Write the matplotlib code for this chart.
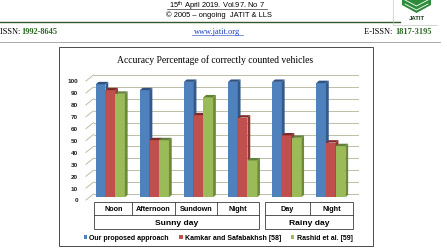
import matplotlib
matplotlib.use("Agg")
import matplotlib.pyplot as plt
from matplotlib.patches import Rectangle, Polygon
from matplotlib.lines import Line2D
import numpy as np

# data
categories = ["Noon", "Afternoon", "Sundown", "Night", "Day", "Night"]
groups = ["Sunny day", "Rainy day"]
series = ["Our proposed approach", "Kamkar and Safabakhsh [58]", "Rashid et al. [59]"]
ours = [95, 90, 97, 97, 97, 96]
kamkar = [90, 48, 69, 67, 52, 46]
rashid = [87, 48, 84, 31, 50, 43]
yticks = [0, 10, 20, 30, 40, 50, 60, 70, 80, 90, 100]

front_colors = ["#4f81bd", "#c0504d", "#9bbb59"]
side_colors = ["#35598a", "#8e3532", "#6d8a38"]
top_colors = ["#2f5283", "#7f2b29", "#62803a"]

W, H = 447, 253
# pixel mapping of the plot (x: category centre, y: value)
X0, XS = 110.3, 44.1
Y0, YS = 198.3, 1.19


def fx(px):
    return px / W


def fy(py):
    return 1 - py / H


def dx(px):
    return (px - X0) / XS


def main():
    fig = plt.figure(figsize=(W / 100, H / 100), dpi=100)
    fig.patch.set_facecolor("white")

    # ---- page header ----
    fig.text(fx(217), fy(6), r"15$^{\mathregular{th}}$ April 2019. Vol.97. No 7",
             ha="center", va="center", fontsize=5.4, family="Liberation Sans")
    fig.add_artist(Line2D([fx(167), fx(267)], [fy(10), fy(10)], color="black", lw=0.4))
    fig.text(fx(218.5), fy(15), "\u00a9 2005 \u2013 ongoing  JATIT & LLS",
             ha="center", va="center", fontsize=5.4, family="Liberation Sans")
    fig.add_artist(Line2D([0, fx(400)], [fy(22.7), fy(22.7)], color="#2f5a2f", lw=1.0))

    green = "#2a6a22"
    fig.text(fx(0), fy(32), "ISSN: ", ha="left", va="center", fontsize=6,
             family="Liberation Serif")
    fig.text(fx(21), fy(32), "1992-8645", ha="left", va="center", fontsize=6,
             family="Liberation Serif", weight="bold", color=green)
    fig.text(fx(217.5), fy(32), "www.jatit.org", ha="center", va="center", fontsize=6,
             family="Liberation Serif", color="#1a3fbf")
    fig.add_artist(Line2D([fx(192), fx(243)], [fy(35.8), fy(35.8)], color="#1a3fbf", lw=0.4))
    fig.text(fx(395), fy(32), "1817-3195", ha="left", va="center", fontsize=6,
             family="Liberation Serif", weight="bold", color=green)
    fig.text(fx(394), fy(32), "E-ISSN: ", ha="right", va="center", fontsize=6,
             family="Liberation Serif")
    fig.add_artist(Line2D([0, fx(440)], [fy(43.3), fy(43.3)], color="#9a9a9a", lw=0.6))

    # logo
    fig.add_artist(Line2D([fx(393), fx(393), fx(437)], [fy(0), fy(26), fy(26)],
                          color="#c8c8c8", lw=0.5))
    fig.add_artist(Polygon([(fx(402), fy(0)), (fx(431), fy(0)), (fx(431), fy(6)),
                            (fx(416.5), fy(14)), (fx(402), fy(6))],
                           closed=True, facecolor="#2e8b3a", edgecolor="none"))
    for yy in (3, 7):
        fig.add_artist(Line2D([fx(405), fx(416.5), fx(428)], [fy(yy - 2), fy(yy + 4), fy(yy - 2)],
                              color="white", lw=0.6))
    fig.text(fx(417), fy(19), "JATIT", ha="center", va="center", fontsize=4.3,
             weight="bold", family="Liberation Sans", color="#1e3a1e")

    # ---- chart frame ----
    fig.add_artist(Rectangle((fx(59), fy(247.3)), (373 - 59) / W, (247.3 - 47.5) / H,
                             facecolor="none", edgecolor="#4a4a4a", lw=0.7))
    fig.text(fx(215), fy(60), "Accuracy Percentage of correctly counted vehicles",
             ha="center", va="center", fontsize=6.9, family="Liberation Serif")

    ax = fig.add_axes([fx(60), fy(247), (372 - 60) / W, (247 - 48) / H])
    ax.set_xlim(dx(60), dx(372))
    ax.set_ylim((Y0 - 247) / YS, (Y0 - 48) / YS)
    ax.axis("off")

    # back wall gridlines + diagonal floor lines
    back_dv = (Y0 - 195) / YS
    front_dv = (Y0 - 201) / YS
    for v in yticks:
        ax.plot([dx(93.5), dx(358)], [v + back_dv, v + back_dv],
                color="#bdbca4", lw=0.7, zorder=1)
        ax.plot([dx(86), dx(93.5)], [v + front_dv, v + back_dv],
                color="#bdbca4", lw=0.7, zorder=1)
        ax.text(dx(78), v + front_dv, str(v), ha="right", va="center",
                fontsize=4.6, weight="bold", family="Liberation Sans", color="#222222")

    # 3d-ish bars
    pos = np.arange(len(categories))
    w = 9.7 / XS
    ddx = 2.8 / XS
    ddy = 2.4 / YS
    values = [ours, kamkar, rashid]
    for i, vals in enumerate(values):
        xs = pos + (i - 1) * w
        bars = ax.bar(xs, vals, width=w, color=front_colors[i], label=series[i],
                      linewidth=0)
        for j, (b, v) in enumerate(zip(bars, vals)):
            z = 3 + j * 3 + i
            b.set_zorder(z)
            x0 = xs[j] - w / 2
            x1 = xs[j] + w / 2
            ax.fill([x1, x1 + ddx, x1 + ddx, x1], [0, ddy, v + ddy, v],
                    color=side_colors[i], lw=0, zorder=z)
            ax.fill([x0, x0 + ddx, x1 + ddx, x1], [v, v + ddy, v + ddy, v],
                    color=top_colors[i], lw=0, zorder=z)

    # ---- category table ----
    tcol = "#3c3c3c"
    lw = 0.6
    top, mid, bot = 202.7, 216, 230.3
    blocks = [(94.3, 259.3, [132.3, 175, 217.3], 0, 4),
              (265, 353.3, [310], 4, 6)]
    for k, (l, r, inner, a, b) in enumerate(blocks):
        fig.add_artist(Rectangle((fx(l), fy(bot)), (r - l) / W, (bot - top) / H,
                                 facecolor="none", edgecolor=tcol, lw=lw))
        fig.add_artist(Line2D([fx(l), fx(r)], [fy(mid), fy(mid)], color=tcol, lw=lw))
        edges = [l] + inner + [r]
        for xv in inner:
            fig.add_artist(Line2D([fx(xv), fx(xv)], [fy(top), fy(mid)], color=tcol, lw=lw))
        for c, name in enumerate(categories[a:b]):
            fig.text(fx((edges[c] + edges[c + 1]) / 2), fy(209.5), name, ha="center",
                     va="center", fontsize=5.2, weight="bold", family="Liberation Sans")
        fig.text(fx((l + r) / 2), fy(223.5), groups[k], ha="center", va="center",
                 fontsize=6.1, weight="bold", family="Liberation Sans")

    # legend
    fig.legend(loc="center", bbox_to_anchor=(fx(218), fy(238.7)), ncol=3, frameon=False,
               prop={"size": 5.0, "weight": "bold", "family": "Liberation Sans"},
               handlelength=0.55, handleheight=0.55, handletextpad=0.3,
               columnspacing=1.4, borderpad=0, borderaxespad=0)

    fig.savefig("out.png", dpi=100)


if __name__ == "__main__":
    main()
